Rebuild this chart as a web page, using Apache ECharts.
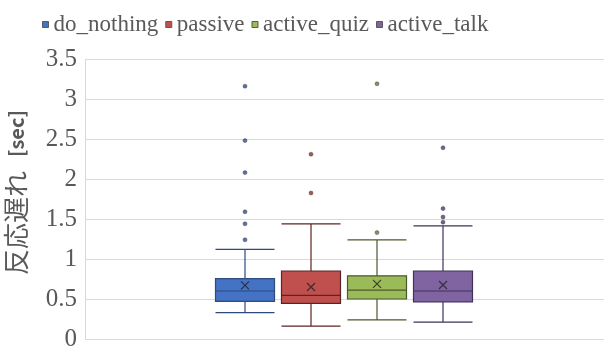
<!DOCTYPE html>
<html>
<head>
<meta charset="utf-8">
<script src="https://cdn.jsdelivr.net/npm/echarts@6/dist/echarts.min.js"></script>
<style>
  html, body { margin: 0; padding: 0; background: #fff; }
  #chart { width: 604px; height: 354px; }
</style>
</head>
<body>
<div id="chart"></div>
<script>
// groups, box stats [min, Q1, median, Q3, max], means and outliers (sec)
const groups = ['do_nothing', 'passive', 'active_quiz', 'active_talk']
const boxStats = [
  [0.33, 0.47, 0.60, 0.755, 1.12],
  [0.16, 0.445, 0.545, 0.85, 1.44],
  [0.24, 0.50, 0.61, 0.79, 1.24],
  [0.21, 0.465, 0.60, 0.85, 1.415]
]
const means = [0.67, 0.65, 0.69, 0.675]
const outliers = [
  [3.16, 2.48, 2.08, 1.59, 1.44, 1.24],
  [2.31, 1.825],
  [3.19, 1.33],
  [2.39, 1.63, 1.525, 1.46]
]
const yTicks = [0, 0.5, 1, 1.5, 2, 2.5, 3, 3.5]

const fills = ['#4472c4', '#c0504d', '#9bbb59', '#8064a2']
const borders = ['#2f4a7c', '#5a2624', '#4b5a2c', '#40325a']
const dots = ['#2f4f8f', '#8b2f2c', '#5f7a30', '#4d3a6e']

const chart = echarts.init(document.getElementById('chart'))

const xAxes = [{ gridIndex: 0, type: 'category', data: [''], show: false }]
groups.forEach(() => {
  xAxes.push({ gridIndex: 1, type: 'category', data: groups, show: false, boundaryGap: true })
})

const series = []
groups.forEach((g, i) => {
  series.push({
    name: g,
    type: 'boxplot',
    xAxisIndex: i + 1,
    yAxisIndex: 1,
    boxWidth: [59, 59],
    data: groups.map((c, j) => (j === i ? boxStats[i] : '-')),
    itemStyle: { color: fills[i], borderColor: borders[i], borderWidth: 1.2 },
    silent: true
  })
})
groups.forEach((g, i) => {
  series.push({
    type: 'scatter',
    xAxisIndex: i + 1,
    yAxisIndex: 1,
    symbol: 'circle',
    symbolSize: 4,
    data: outliers[i].map(v => [g, v]),
    itemStyle: { color: dots[i], borderColor: '#333', borderWidth: 0.5 },
    silent: true
  })
  series.push({
    type: 'scatter',
    xAxisIndex: i + 1,
    yAxisIndex: 1,
    symbol: 'path://M0,0L10,10M10,0L0,10',
    symbolSize: 8,
    data: [[g, means[i]]],
    itemStyle: { color: 'none', borderColor: '#222', borderWidth: 1.2 },
    z: 5,
    silent: true
  })
})

chart.setOption({
  animation: false,
  legend: {
    data: groups.map((g, i) => ({
      name: g,
      icon: 'rect',
      itemStyle: { color: fills[i], borderColor: '#595959', borderWidth: 1 }
    })),
    left: 37,
    top: 8,
    itemWidth: 6,
    itemHeight: 6,
    itemGap: 7,
    selectedMode: false,
    textStyle: { fontFamily: 'Liberation Serif', fontSize: 23, color: '#595959' }
  },
  grid: [
    { left: 85, right: 0, top: 59, bottom: 15, outerBoundsMode: 'none' },
    { left: 212, width: 264, top: 59, bottom: 15, outerBoundsMode: 'none' }
  ],
  xAxis: xAxes,
  yAxis: [
    {
      gridIndex: 0,
      type: 'value',
      min: yTicks[0],
      max: yTicks[yTicks.length - 1],
      interval: 0.5,
      name: '{s|}{a|反応遅れ}{g|}{b|[sec]}',
      nameLocation: 'middle',
      nameGap: 56,
      nameTextStyle: {
        rich: {
          s: { width: 13 },
          g: { width: 14 },
          a: { fontFamily: 'Noto Sans CJK JP', fontSize: 26, color: '#595959' },
          b: { fontFamily: 'Noto Sans CJK JP', fontSize: 20, fontWeight: 'bold', color: '#595959' }
        }
      },
      axisLine: { show: true, lineStyle: { color: '#d9d9d9' } },
      axisTick: { show: false },
      axisLabel: { fontFamily: 'Liberation Serif', fontSize: 25, color: '#595959', margin: 8 },
      splitLine: { lineStyle: { color: '#d9d9d9' } }
    },
    { gridIndex: 1, type: 'value', min: 0, max: 3.5, show: false, splitLine: { show: false } }
  ],
  series: series
})
</script>
</body>
</html>
